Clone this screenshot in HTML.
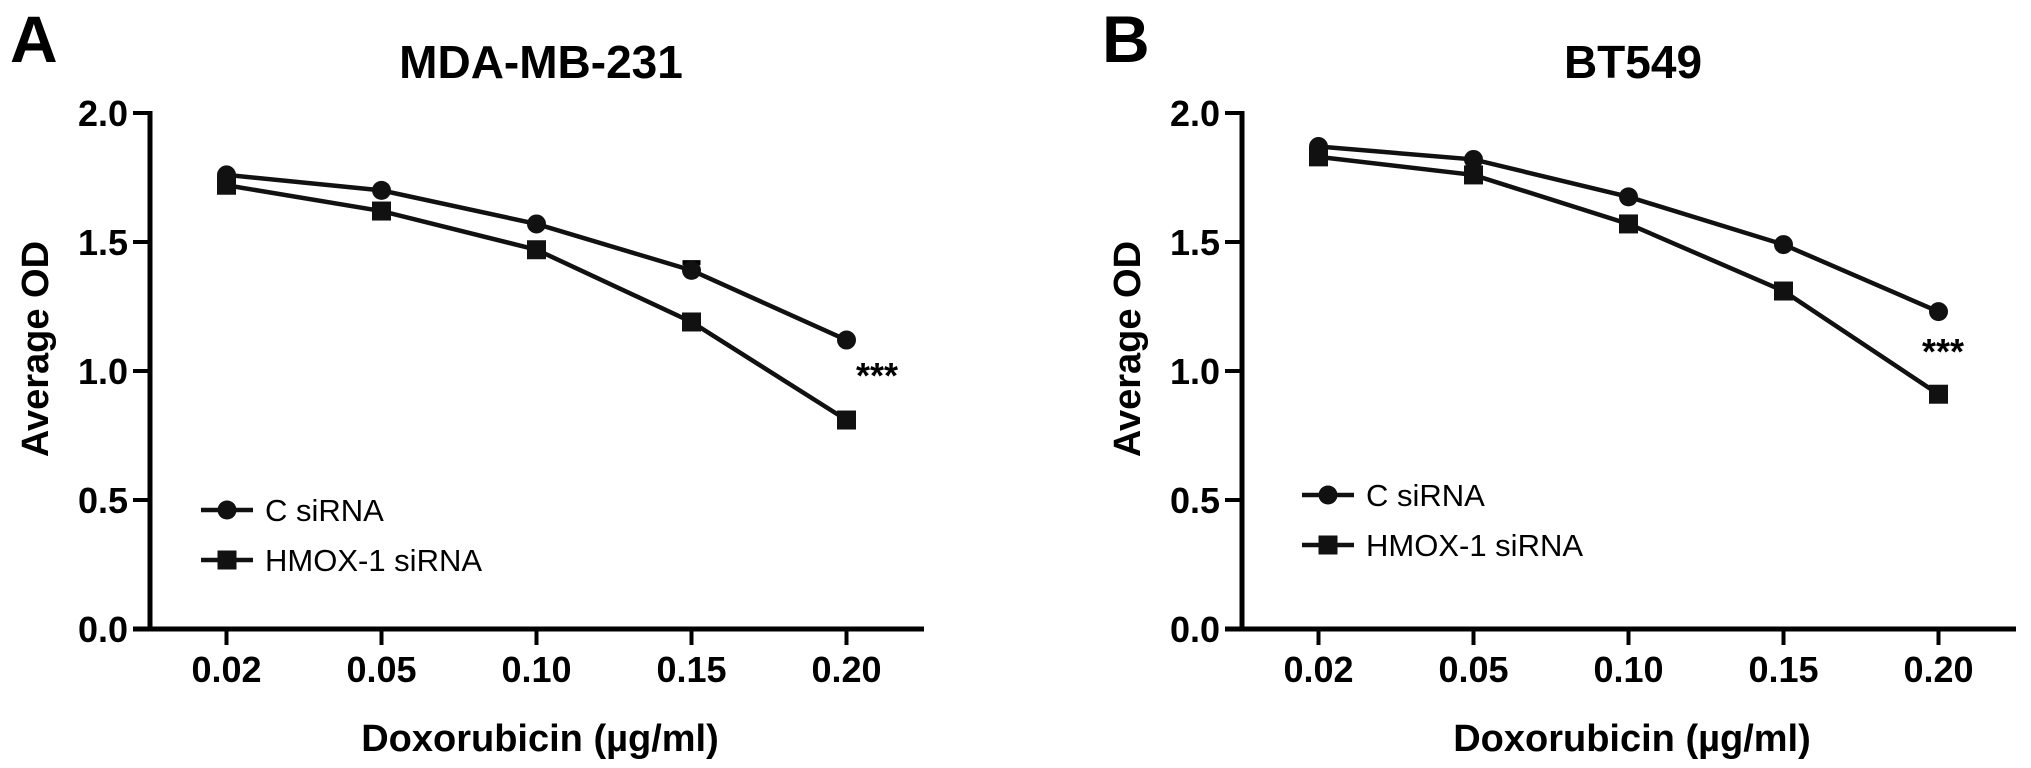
<!DOCTYPE html>
<html><head><meta charset="utf-8"><style>
html,body{margin:0;padding:0;background:#fff;}
svg{display:block;font-family:"Liberation Sans",Arial,sans-serif;}
</style></head><body>
<svg id="fig" width="2031" height="768" viewBox="0 0 2031 768"></svg>
<script>
const categories = ["0.02","0.05","0.10","0.15","0.20"];
const yTicks = [0.0,0.5,1.0,1.5,2.0];
const yTickLabels = ["0.0","0.5","1.0","1.5","2.0"];
const seriesNames = ["C siRNA","HMOX-1 siRNA"];
const aControl = [1.76,1.70,1.57,1.39,1.12];
const aHmox = [1.72,1.62,1.47,1.19,0.81];
const aErrTop = [1.76,1.70,1.57,1.42,1.12];
const bControl = [1.87,1.82,1.675,1.49,1.23];
const bHmox = [1.83,1.76,1.57,1.31,0.91];
const panelTitles = ["MDA-MB-231","BT549"];
const panelLetters = ["A","B"];

const NS="http://www.w3.org/2000/svg";
const svg=document.getElementById('fig');
function mk(tag,attrs,parent){const e=document.createElementNS(NS,tag);for(const k in attrs)e.setAttribute(k,attrs[k]);(parent||svg).appendChild(e);return e;}

function panel(idx,ox,ctrl,hm,errTop,legY,star){
  const g=mk('g',{});
  
  
  const axX=150+ox, y0=629, pxPerUnit=258;
  const yS=v=>y0-v*pxPerUnit;
  const xS=i=>226.5+ox+i*155;
  let t=mk('text',{x:10+ox,y:62,'font-size':66,'font-weight':'bold'},g);t.textContent=panelLetters[idx];
  
  
  t=mk('text',{x:541+ox,y:78,'font-size':46,'font-weight':'bold','text-anchor':'middle'},g);t.textContent=panelTitles[idx];
  
  
  let a=mk('line',{x1:axX,y1:yS(2)-2,x2:axX,y2:y0+2,stroke:'#000','stroke-width':5},g);
  
  
  a=mk('line',{x1:axX-17,y1:y0,x2:924+ox,y2:y0,stroke:'#000','stroke-width':5},g);
  
  
  yTicks.forEach((v,i)=>{
    mk('line',{x1:axX-17,y1:yS(v),x2:axX,y2:yS(v),stroke:'#000','stroke-width':4},g);
    const l=mk('text',{x:axX-22,y:yS(v)+13,'font-size':36,'font-weight':'bold','text-anchor':'end'},g);
    l.textContent=yTickLabels[i];
    
    
  });
  categories.forEach((c,i)=>{
    mk('line',{x1:xS(i),y1:y0,x2:xS(i),y2:y0+16,stroke:'#000','stroke-width':4},g);
    const l=mk('text',{x:xS(i),y:682,'font-size':36,'font-weight':'bold','text-anchor':'middle'},g);
    l.textContent=c;
    
    
  });
  t=mk('text',{x:540+ox,y:751,'font-size':38,'font-weight':'bold','text-anchor':'middle'},g);t.textContent="Doxorubicin (µg/ml)";
  
  
  t=mk('text',{x:0,y:0,'font-size':38,'font-weight':'bold','text-anchor':'middle',transform:`translate(${48+ox},349) rotate(-90)`},g);t.textContent="Average OD";
  
  
  errTop.forEach((v,i)=>{
    if(v>ctrl[i]+0.005){
      const e=mk('path',{d:`M${xS(i)} ${yS(ctrl[i])}V${yS(v)}M${xS(i)-9} ${yS(v)}H${xS(i)+9}`,stroke:'#000','stroke-width':5,fill:'none'},g);
      
      
    }
  });
  [ctrl,hm].forEach((s,si)=>{
    const p=mk('polyline',{points:s.map((v,i)=>xS(i)+','+yS(v)).join(' '),fill:'none',stroke:'#111','stroke-width':4.5},g);
    
    
    s.forEach((v,i)=>{
      let m;
      if(si===0) m=mk('circle',{cx:xS(i),cy:yS(v),r:9.5,fill:'#111'},g);
      else m=mk('rect',{x:xS(i)-9.5,y:yS(v)-9.5,width:19,height:19,fill:'#111'},g);
      
      
    });
  });
  t=mk('text',{x:star[0]+ox,y:star[1],'font-size':36,'font-weight':'bold','text-anchor':'middle'},g);t.textContent="***";
  
  
  const lx=legY[0]+ox;
  [0,1].forEach(si=>{
    const ly=legY[1]+si*50;
    const le=mk('g',{},g);
    
    
    mk('line',{x1:lx,y1:ly,x2:lx+52,y2:ly,stroke:'#111','stroke-width':4.5},le);
    if(si===0) mk('circle',{cx:lx+26,cy:ly,r:9.5,fill:'#111'},le);
    else mk('rect',{x:lx+16.5,y:ly-9.5,width:19,height:19,fill:'#111'},le);
    const tt=mk('text',{x:lx+64,y:ly+11,'font-size':31},le);tt.textContent=seriesNames[si];
  });
}
panel(0,0,aControl,aHmox,aErrTop,[201,510],[877,388]);
panel(1,1092,bControl,bHmox,bControl,[210,495],[851,364]);
</script>
</body></html>
